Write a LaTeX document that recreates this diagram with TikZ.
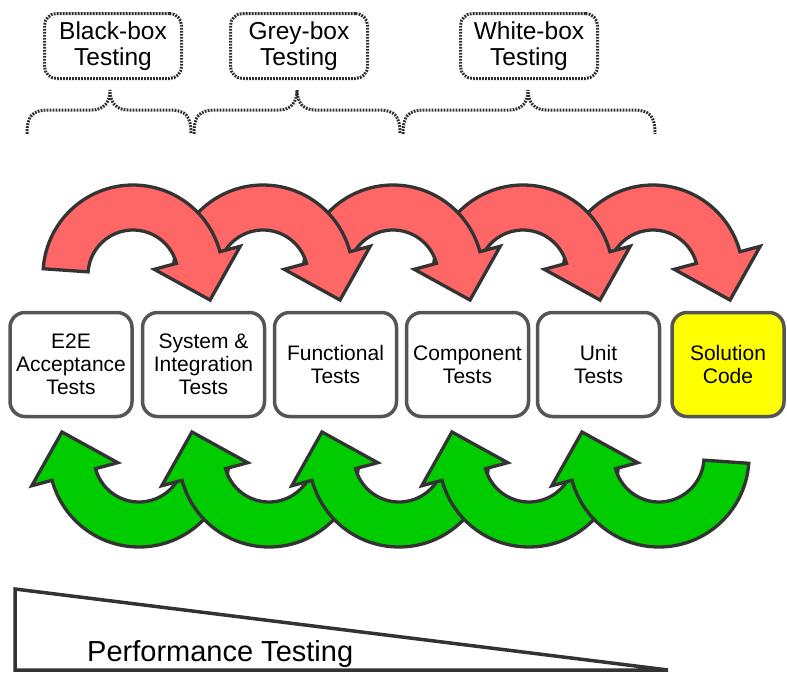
\documentclass[tikz,border=0pt]{standalone}
\usepackage{fontspec}
\setmainfont{Liberation Sans}
\definecolor{arrowred}{HTML}{FF6666}
\definecolor{arrowgreen}{HTML}{00CC00}
\definecolor{outline}{HTML}{333333}
\definecolor{boxline}{HTML}{555555}
\definecolor{dotline}{HTML}{2E2E2E}
\definecolor{solution}{HTML}{FFFF00}
\begin{document}
\begin{tikzpicture}[x=1pt,y=1pt,
  testbox/.style={draw=boxline, line width=3.5pt, rounded corners=15pt,
    minimum width=122pt, minimum height=104pt, align=center, inner sep=0pt,
    font=\fontsize{21}{23}\selectfont},
  kindbox/.style={draw=dotline, line width=3pt, dash pattern=on 1.8pt off 1.2pt,
    rounded corners=12pt, minimum width=137pt, minimum height=65pt,
    align=center, inner sep=0pt, font=\fontsize{24.5}{26}\selectfont},
  bracepath/.style={draw=dotline, line width=3pt, dash pattern=on 1.8pt off 1.2pt},
  bentarrow/.style={draw=outline, line width=3.3pt, line join=miter},
]
\useasboundingbox (0,0) rectangle (787,-673);

% testing styles at the top
\node[kindbox] (black) at (113,-46) {Black-box\\Testing};
\node[kindbox] (grey)  at (299,-46) {Grey-box\\Testing};
\node[kindbox] (white) at (529,-46) {White-box\\Testing};

% curly braces grouping the test levels
\foreach \xa/\xm/\xb in {27/110/191, 194/297/400, 403/528/655}{
  \draw[bracepath] (\xa,-134) .. controls (\xa,-116) and (\xa+5,-110) .. (\xa+22,-110)
    -- (\xm-18,-110) .. controls (\xm-6,-110) and (\xm,-102) .. (\xm,-90)
    .. controls (\xm,-102) and (\xm+6,-110) .. (\xm+18,-110)
    -- (\xb-22,-110) .. controls (\xb-5,-110) and (\xb,-116) .. (\xb,-134);
}

% red curved arrows, drawn right to left so the left ones lie on top
\foreach \cx in {653,523,393,263,133}{
  \path[bentarrow, fill=arrowred, shift={(\cx,-275)}]
    (176:90) arc[start angle=176, end angle=15, radius=90]
    -- (15:111) -- (-18:81) -- (15:22) -- (15:45)
    arc[start angle=15, end angle=176, radius=45] -- cycle;
}

% green curved arrows, drawn left to right so the right ones lie on top
\foreach \cx in {139,269,399,529,659}{
  \path[bentarrow, fill=arrowgreen, shift={(\cx,-457)}, rotate=180]
    (176:90) arc[start angle=176, end angle=15, radius=90]
    -- (15:111) -- (-18:81) -- (15:22) -- (15:45)
    arc[start angle=15, end angle=176, radius=45] -- cycle;
}

% test levels
\node[testbox] (e2e)  at (71,-364.5)    {E2E\\Acceptance\\Tests};
\node[testbox] (sys)  at (203.5,-364.5) {System \&\\Integration\\Tests};
\node[testbox] (func) at (335.5,-364.5) {Functional\\Tests};
\node[testbox] (comp) at (467.5,-364.5) {Component\\Tests};
\node[testbox] (unit) at (598.5,-364.5) {Unit\\Tests};
\node[testbox, fill=solution, minimum width=112pt] (code) at (728,-364.5) {Solution\\Code};

% performance testing wedge
\draw[draw=outline, line width=3.5pt] (15,-589) -- (15,-670) -- (668,-670) -- cycle;
\node[anchor=base west, inner sep=0pt, font=\fontsize{29}{33}\selectfont] (perf) at (87,-661) {Performance Testing};
\end{tikzpicture}
\end{document}
